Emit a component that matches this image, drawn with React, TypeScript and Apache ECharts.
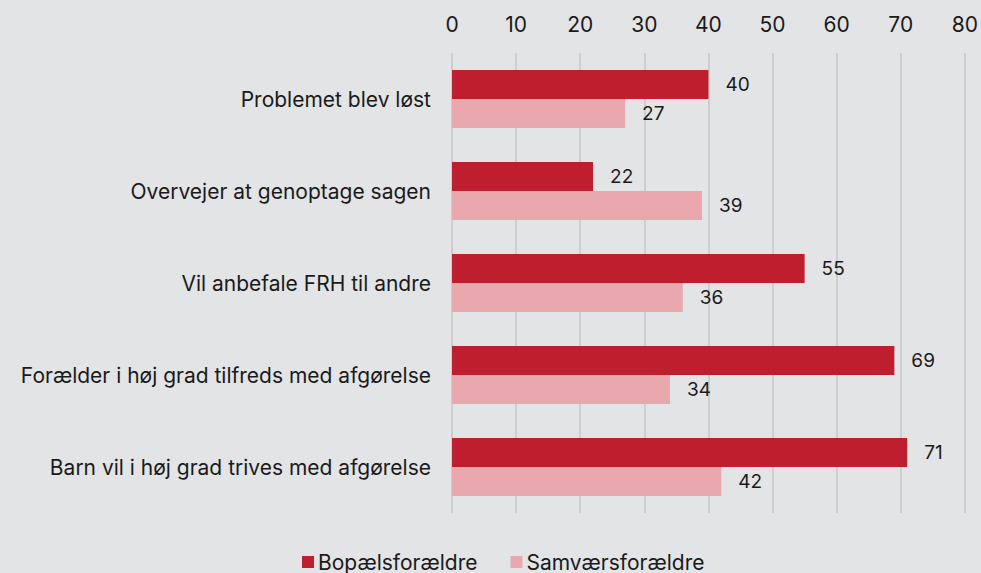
import React, { useEffect, useRef } from "react";
import * as echarts from "echarts";

const categories = [
  "Problemet blev løst",
  "Overvejer at genoptage sagen",
  "Vil anbefale FRH til andre",
  "Forælder i høj grad tilfreds med afgørelse",
  "Barn vil i høj grad trives med afgørelse",
];
const seriesNames = ["Bopælsforældre", "Samværsforældre"];
const bopael = [40, 22, 55, 69, 71];
const samvaer = [27, 39, 36, 34, 42];

export default function App() {
  const ref = useRef<HTMLDivElement>(null);
  useEffect(() => {
    const chart = echarts.init(ref.current!, undefined, { renderer: "svg" });
    const font = "Inter, 'Noto Sans', sans-serif";
    const label = {
      show: true,
      position: "right" as const,
      distance: 17,
      color: "#1a1a1a",
      fontSize: 19,
      fontFamily: font,
    };
    chart.setOption({
      animation: false,
      backgroundColor: "#e3e4e6",
      textStyle: { fontFamily: font },
      grid: { left: 452, right: 15, top: 53, bottom: 60 },
      legend: {
        top: 551,
        left: 302,
        itemWidth: 12,
        itemHeight: 12,
        itemGap: 33,
        icon: "rect",
        padding: 0,
        textStyle: { fontSize: 21, lineHeight: 22, color: "#1a1a1a", fontFamily: font, padding: [0, 0, 0, -1] },
        data: seriesNames,
      },
      xAxis: {
        type: "value",
        position: "top",
        min: 0,
        max: 80,
        interval: 10,
        axisLine: { show: false },
        axisTick: { show: false },
        axisLabel: { fontSize: 21, color: "#1a1a1a", fontFamily: font, margin: 18 },
        splitLine: { lineStyle: { color: "#c6c7c9", width: 1.5 } },
      },
      yAxis: {
        type: "category",
        inverse: true,
        data: categories,
        axisLine: { show: false },
        axisTick: { show: false },
        axisLabel: { fontSize: 21, color: "#1a1a1a", fontFamily: font, margin: 21 },
      },
      series: [
        {
          name: seriesNames[0],
          type: "bar",
          data: bopael,
          barWidth: 29,
          barGap: "0%",
          itemStyle: { color: "#be1e2d" },
          label,
        },
        {
          name: seriesNames[1],
          type: "bar",
          data: samvaer,
          barWidth: 29,
          barGap: "0%",
          itemStyle: { color: "#e8a8ad" },
          label,
        },
      ],
    });
    return () => chart.dispose();
  }, []);
  return <div ref={ref} style={{ width: 981, height: 573, position: "absolute", left: 0, top: 0 }} />;
}
